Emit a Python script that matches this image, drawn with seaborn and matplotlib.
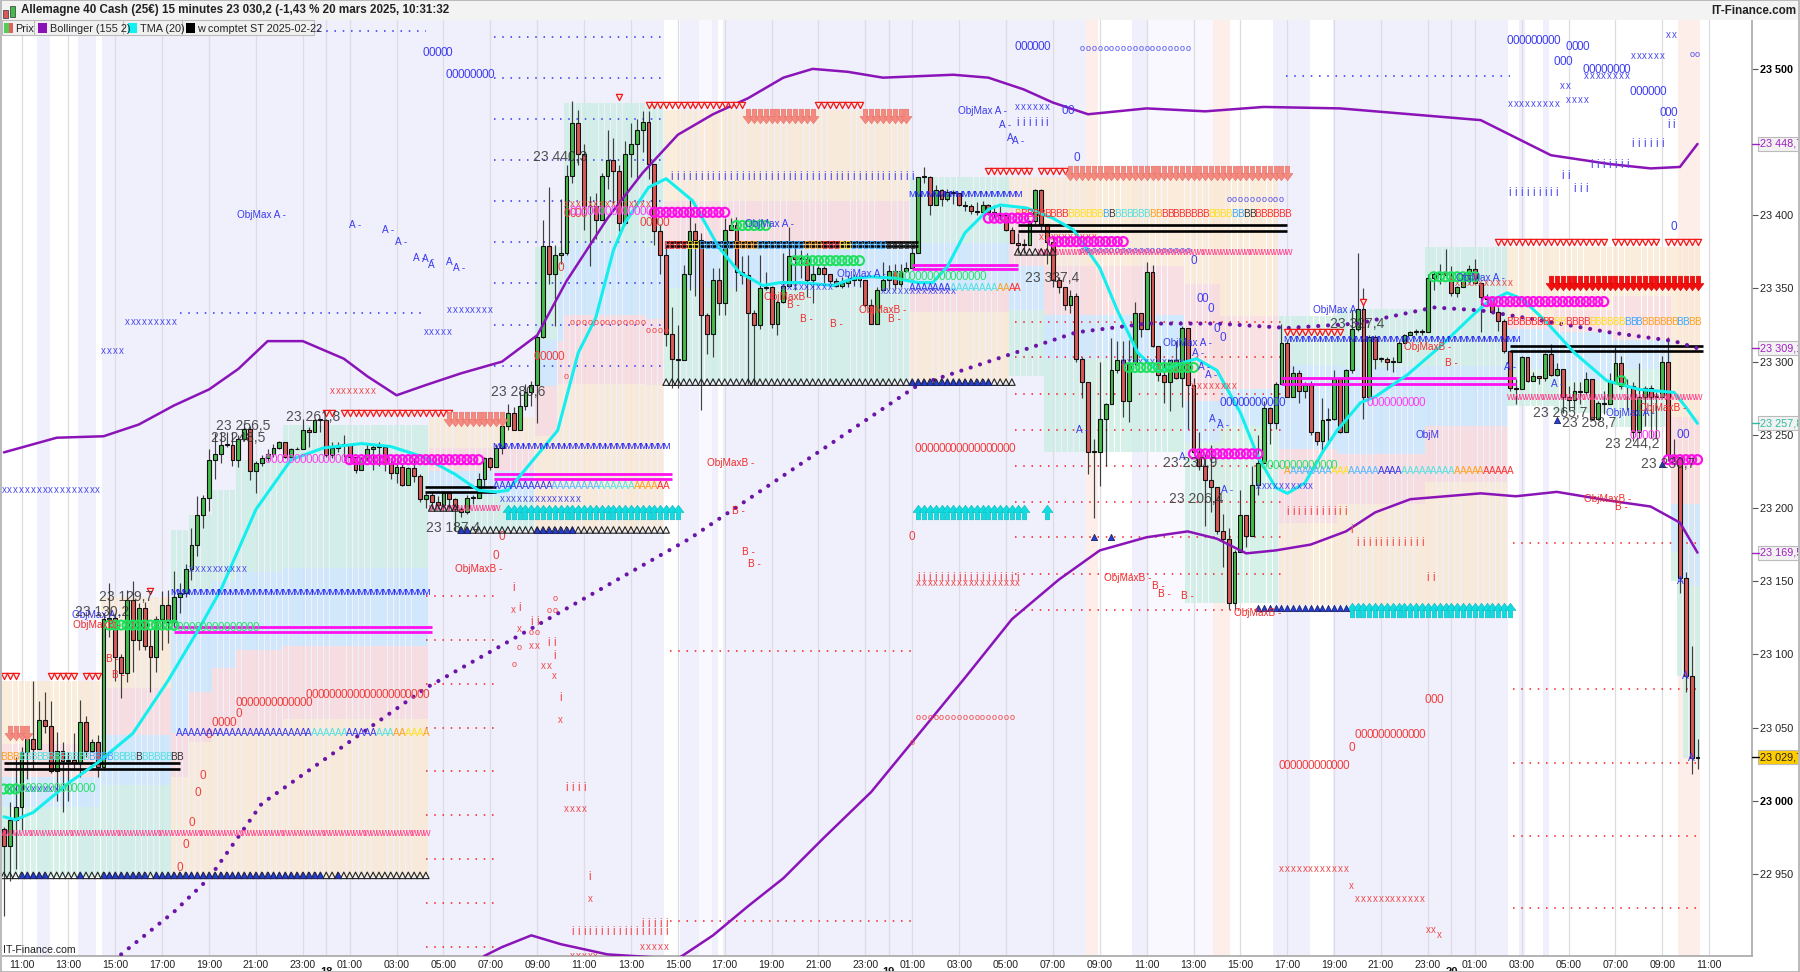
import numpy as np
import pandas as pd
import matplotlib
matplotlib.use("Agg")
import matplotlib.pyplot as plt
from matplotlib.patches import Rectangle
from matplotlib.path import Path
from matplotlib.transforms import blended_transform_factory
import seaborn as sns

# ------------------------------ DATA ------------------------------
first_bar = -3
first_open = 22981
closes = [
22969,22987,22996,23033,23042,23035,23055,23051,23020,23034,23027,23028,23026,23054,23034,23040,23023,23124,23125,23098,23087,23137,23110,23132,23106,23098,23124,23134,23122,23139,23142,23158,
23175,23195,23207,23233,23237,23243,23243,23233,23247,23254,
23225,23231,23234,23237,23241,23245,23235,23240,23240,23253,
23252,23260,23260,23236,23241,23243,23244,23235,23226,23234,
23240,23242,23242,23231,23224,23228,23216,23227,23222,23206,
23209,23204,23202,23210,23206,23199,23197,23207,23207,23220,
23234,23228,23241,23256,23265,
23253,23270,23279,23284,23317,23379,23360,23373,23374,23427,
23463,23442,23406,23406,23397,23427,23438,23430,23395,23442,
23449,23458,23464,23435,23389,23373,23319,23302,23301,23360,
23389,23383,23332,23319,23356,23340,23390,23393,23361,23359,
23333,23325,23350,23351,23326,23341,23352,23372,23370,23370,
23356,23360,23364,23360,23355,23352,23354,23356,23357,23356,
23339,23326,23349,23356,23362,23353,23362,23364,23374,23426,
23426,23407,23417,23411,23416,23415,23407,23406,23403,23402,
23407,23402,23401,23400,23390,23381,23380,23380,23396,23417,
23394,23382,23356,23351,23339,23345,23302,23286,
23238,23238,23261,23271,23294,23301,23273,23299,23333,23322,
23361,23311,23291,23286,23301,23289,23323,23284,23238,23229,
23219,23214,23184,23179,23135,23170,23195,23181,23216,23231,
23268,23258,23285,23313,23276,23292,23280,23284,23252,23246,
23260,23261,23288,23252,23294,23322,
23336,23276,23317,23302,23302,23300,23300,23313,23318,23320,
23320,23320,23357,23360,23361,23359,23347,23351,23359,23363,
23354,23344,23343,23334,23328,23307,23282,23281,23303,23287,
23290,23289,23305,23291,23295,23276,23274,23280,23279,23288,
23261,23272,23271,23286,23299,23283,23283,23252,23276,23282,
23276,23276,23300,23236,23235,23152,23085,23029,23030]
highs = [
22982,22999,23030,23037,23044,23082,23068,23074,23068,23047,23040,23033,23046,23069,23058,23042,23045,23128,23149,23128,23100,23144,23150,23135,23136,23117,23126,23143,23144,23157,23149,23162,
23186,23208,23209,23240,23251,23252,23252,23252,23250,23258,
23256,23232,23236,23240,23244,23246,23245,23241,23242,23261,
23255,23261,23261,23261,23245,23245,23250,23244,23235,23235,
23244,23244,23245,23243,23234,23234,23231,23228,23234,23223,
23210,23211,23208,23211,23210,23207,23201,23209,23209,23224,
23235,23235,23244,23264,23271,
23269,23279,23285,23287,23319,23397,23419,23380,23411,23434,
23478,23472,23449,23413,23415,23429,23458,23453,23434,23451,
23463,23466,23471,23471,23435,23394,23380,23337,23325,23366,
23411,23395,23388,23333,23364,23364,23398,23398,23399,23372,
23373,23335,23373,23361,23352,23342,23374,23392,23380,23376,
23374,23367,23365,23365,23360,23357,23358,23359,23360,23359,
23355,23343,23351,23368,23366,23367,23367,23368,23378,23426,
23433,23427,23421,23418,23418,23417,23415,23410,23408,23409,
23410,23408,23407,23406,23401,23392,23388,23384,23397,23418,
23418,23394,23385,23358,23351,23349,23347,23303,
23286,23247,23300,23272,23316,23314,23314,23315,23341,23332,
23368,23366,23311,23301,23301,23314,23324,23322,23289,23252,
23237,23243,23214,23196,23186,23171,23212,23195,23229,23250,
23273,23269,23286,23326,23314,23297,23294,23286,23287,23252,
23275,23268,23294,23287,23295,23335,
23374,23350,23318,23318,23303,23303,23303,23314,23319,23321,
23322,23322,23360,23361,23367,23377,23365,23352,23360,23366,
23370,23354,23346,23344,23337,23329,23307,23288,23304,23301,
23293,23289,23306,23312,23299,23295,23283,23286,23286,23293,
23288,23273,23280,23292,23310,23304,23288,23286,23299,23283,
23284,23279,23304,23317,23247,23232,23156,23106,23042]
lows = [
22921,22945,22953,22980,23015,23021,23035,23046,23019,23000,22992,23000,23021,23016,23030,23033,23016,23021,23112,23082,23070,23081,23088,23103,23103,23074,23088,23103,23108,23119,23128,23139,
23151,23167,23186,23198,23220,23231,23242,23229,23228,23246,
23219,23210,23229,23232,23235,23240,23234,23234,23240,23240,
23242,23252,23252,23235,23234,23238,23235,23232,23224,23226,
23232,23226,23229,23225,23220,23217,23215,23216,23218,23204,
23200,23199,23199,23198,23199,23184,23194,23196,23203,23207,
23215,23226,23228,23237,23253,
23253,23253,23267,23270,23258,23316,23353,23324,23367,23373,
23422,23434,23390,23365,23384,23406,23418,23408,23389,23393,
23426,23425,23443,23425,23380,23360,23311,23282,23282,23302,
23349,23345,23267,23305,23303,23332,23332,23390,23348,23353,
23285,23284,23322,23349,23323,23318,23340,23351,23349,23357,
23344,23340,23360,23353,23352,23351,23350,23351,23352,23351,
23337,23326,23326,23349,23349,23349,23351,23361,23365,23374,
23422,23400,23407,23406,23410,23408,23406,23403,23401,23400,
23401,23400,23398,23397,23389,23381,23374,23374,23380,23394,
23390,23367,23351,23347,23335,23333,23300,23275,
23223,23193,23215,23229,23273,23292,23262,23259,23298,23317,
23322,23310,23287,23272,23266,23288,23269,23254,23237,23226,
23188,23197,23182,23160,23131,23130,23170,23173,23181,23209,
23231,23244,23254,23285,23276,23277,23272,23275,23250,23243,
23239,23244,23260,23251,23252,23292,
23321,23261,23276,23295,23300,23294,23293,23301,23314,23318,
23318,23318,23320,23349,23353,23359,23345,23344,23352,23353,
23353,23320,23338,23333,23321,23306,23280,23271,23281,23286,
23287,23285,23287,23290,23290,23265,23267,23267,23271,23278,
23260,23260,23264,23271,23285,23281,23267,23246,23248,23256,
23248,23248,23276,23232,23232,23142,23074,23018,23022]

upper_bars = [-3,6,14,20,26,32,37,42,48,55,59,64,69,75,82,88,93,100,106,112,118,124,130,135,141,147,153,159,165,171,176,182,192,202,212,225,237,249,255,261,271,278,283,286]
upper_vals = [23238,23248,23249,23257,23270,23281,23295,23314,23314,23302,23290,23277,23284,23292,23300,23318,23355,23398,23429,23455,23469,23480,23494,23500,23498,23494,23495,23496,23494,23486,23477,23469,23473,23471,23474,23473,23469,23465,23453,23441,23435,23432,23433,23448.7]
lower_bars = [76,79,82,87,92,100,112,118,124,130,137,145,153,161,169,177,184,192,199,204,209,214,220,226,231,237,249,255,262,271,278,283,286]
lower_vals = [22880,22894,22900,22908,22902,22895,22892,22908,22928,22947,22975,23006,23045,23084,23124,23151,23171,23180,23184,23179,23169,23171,23175,23184,23197,23206,23210,23208,23211,23205,23201,23190,23169.5]
mid_bars = [17,26,32,41,69,81,114,153,180,192,204,216,228,241,249,261,271,282,286]
mid_vals = [22895,22924,22947,22998,23077,23104,23179,23284,23320,23326,23326,23323,23326,23337,23335,23327,23320,23314,23309.1]
tma_bars = [-3,-1,2,8,13,19,25,30.5,34,40,46,51.5,58,63,68.5,74,78,81,83,91.5,95,98,101,103,107,110,114.5,119,122.5,126.5,129.5,133,138.5,142,145,149,153,155.5,158,161,165,167,171.5,176,179.5,184,187,190.5,194,198,200.5,204,208,211,214,216,219,222,224.5,228.5,231,236.5,242,248,250,253.5,256,260,265,270.5,276,282,284,286]
tma_vals = [22989,22987,22992,23012,23026,23046,23082,23119,23144,23199,23233,23241,23244,23242,23235,23223,23212,23211,23212,23253,23306,23330,23376,23395,23419,23425,23410,23378,23361,23352,23354,23354,23352,23357,23358,23357,23354,23354,23365,23388,23404,23407,23405,23398,23390,23364,23335,23306,23293,23299,23302,23294,23265,23235,23214,23210,23217,23238,23253,23272,23276,23291,23310,23333,23340,23347,23343,23328,23306,23287,23281,23279,23269,23257.8]

lavender_spans = [(2.6,4.9),(9.6,12.7),(13.7,109.6),(112.4,115.6),(117.8,118.9),(119.7,181.6),(189.5,192),(213.6,219.9),(223.8,253.7),(255.5,256.6),(259.6,260.7)]
pale_spans = [(115.6,117.8),(192,203.3)]
rose_spans = [(181.6,183.7),(203.3,206.2),(282.7,286.4)]

warm_blocks = [(-3,14,23082,23039,23016,22996,22948),(14,26,23139,23077,23045,23011,22948),
 (70,74,23262,23241,23225,23208,23198),(74,88,23262,23241,23225,23208,23184),
 (110,152,23472,23410,23382,23350,23286),(169,175,23426,23405,23365,23335,23290),
 (175,199,23426,23365,23332,23302,23238),(199,205,23426,23353,23273,23245,23135),
 (205,215,23426,23331,23281,23256,23135),(254,262,23378,23329,23322,23295,23270),
 (262,272,23378,23335,23320,23287,23265),(272,282,23378,23345,23315,23295,23255),
 (282,283,23378,23262,23203,23170,23150),(283,284,23378,23262,23203,23170,23085),(284,287,23378,23262,23203,23147,23029)]
cool_blocks = [(26,29,23185,23144,23046,23016,22948),(29,33,23195,23144,23074,23040,22948),
 (33,37,23212,23150,23091,23045,22948),(37,45,23233,23156,23103,23048,22948),(45,70,23257,23159,23106,23056,22948),
 (88,92,23378,23315,23283,23249,23184),(92,93,23378,23356,23314,23285,23184),(93,107,23477,23381,23332,23285,23184),
 (107,110,23477,23378,23329,23284,23184),(152,169,23426,23381,23349,23334,23286),
 (215,225,23331,23298,23240,23190,23134),(225,240,23336,23296,23237,23203,23134),(240,254,23378,23297,23256,23218,23134)]

blue_dotted = [(50.6,69,23526),(27,69,23333)] + [(80.6,110,p) for p in (23522,23494,23466,23438,23410,23382,23354,23325,23297)] + [(215.7,254,23495)]
red_dotted = [(69,80.6,p) for p in (23140,23110,23080,23050,23020,22990,22960,22930,22900)] + \
 [(110.7,152,23102),(110.7,152,22918)] + \
 [(169.5,215,p) for p in (23327,23303,23278,23253,23229,23204,23180,23155,23130)] + \
 [(254.5,286,p) for p in (23176,23076,23026,22976,22927)]
black_levels = [(-3,27,23026),(-3,27,23022),(68.8,81,23214),(68.8,81,23211),(110,153,23382),(110,153,23379),(170,216,23393),(170,216,23389),(254,287,23311),(254,287,23307)]
magenta_levels = [(26,70,23118.7),(26,70,23115),(80.6,111,23223),(80.6,111,23220),(152,170,23366),(152,170,23363),(215,255,23289),(215,255,23285)]

tri_red = [(-3,-1,23085),(5,9,23085),(11,13,23085),(52,53,23265),(55,73,23265),(22,22,23143),(107,123,23475),(136,143,23475),(102,102,23481),(165,172,23430),(174,178,23430),(252,270,23382),(272,279,23382),(281,286,23382),(216,225,23320),(229,229,23341)]
arrow_pink = [(-2,1,23046),(73,82,23261),(124,135,23468),(144,151,23468),(179,216,23429)]
arrow_red = [(261,286,23354)]
arrow_cyan = [(83,112,23197),(153,171,23197),(175,175,23197),(227,254,23130)]
tri_black = [(-3,69,22949),(70,74,23200),(75,110,23185),(110,169,23286),(170,176,23375)]
tri_blue = [(0,4,22949),(10,10,22949),(14,21,22949),(23,51,22949),(54,54,22949),(75,76,23185),(88,94,23185),(152,165,23286),(211,226,23132),(183,183,23180),(186,186,23180),(262,262,23260),(280,280,23230)]
zigzag_pink = [(-3,69,22978),(70,81,23200),(174,216,23375),(254,286,23276)]
m_blue = [(26,69,23142),(81,110,23242),(152,170,23414),(216,255,23315)]
a_rows = [(27,69,23046),(81,110,23215),(152,170,23350),(216,254,23225)]
a_runs = [[("#3a3ae8",23),("#55e0e0",6),("#3a3ae8",5),("#55e0e0",3),("#ffa020",2),("#ffe020",3),("#ffa020",3),("#ff3030",2)],
          [("#3a3ae8",10),("#55b8ff",8),("#55e0e0",6),("#ffa020",4),("#ff3030",3)],
          [("#3a3ae8",7),("#55e0e0",8),("#ffa020",2),("#ff3030",2)],
          [("#ffa020",1),("#55b8ff",7),("#ffe020",3),("#55b8ff",5),("#3a3ae8",4),("#55e0e0",9),("#ffa020",5),("#ff3030",5)]]
b_rows = [(-3,27,23030),(110,152,23379),(170,216,23401),(254,286,23327)]
b_runs = [[("#ffa020",3),("#55e0e0",12),("#3aa8ff",4),("#55e0e0",4),("#333333",1),("#55e0e0",5),("#333333",2)],
          [("#ff3030",4),("#ffe020",2),("#3aa8ff",6),("#ffa020",4),("#3aa8ff",8),("#ffa020",3),("#ff3030",3),("#ffe020",2),("#3aa8ff",6),("#333333",2)],
          [("#ffa020",1),("#ff3030",8),("#ffe020",6),("#3aa8ff",1),("#333333",1),("#55e0e0",6),("#ffa020",2),("#ff3030",8),("#ffe020",4),("#3aa8ff",2),("#333333",2),("#ff3030",6)],
          [("#ff3030",8),("#ffe020",2),("#ff3030",4),("#ffe020",6),("#3aa8ff",3),("#ffa020",6),("#3aa8ff",2),("#ffa020",2),("#ff3030",6)]]
x_blue = [(-3,13,23212),(14,17,23307),(18,26,23327),(69,73,23320),(73,80,23335),(29,38,23158),(-2,6,23008),(82,95,23206),(130,138,23351),(147,159,23348),(211,220,23215),(188,198,23300),(254,262,23476),(275,280,23509),(281,282,23523),(263,264,23488),(264,267,23479),(267,274,23495),(170,175,23474)]
i_blue = [(111,152,23426),(170,175,23463),(254,262,23415),(263,264,23427),(265,267,23418),(268,274,23434),(275,280,23449),(281,282,23462)]
zero_blue = [(69,73,23511),(73,80,23496),(254,262,23519),(262,264,23505),(264,267,23515),(267,274,23499),(275,280,23484),(280,282,23470),(282,282,23392),(170,175,23515),(178,179,23471),(180,180,23439),(200,200,23369),(201,202,23343),(203,203,23336),(204,204,23322),(205,205,23316),(205,215,23272),(283,284,23250)]
oh_blue = [(181,199,23514),(206,215,23411),(285,286,23510),(181,199,23376)]
zero_red = [(37,49,23067),(49,69,23072),(37,37,23059),(33,36,23053),(32,32,23045),(31,31,23017),(30,30,23005),(29,29,22985),(28,28,22970),(27,27,22954),(82,82,23180),(81,81,23167),(88,92,23303),(92,92,23364),(93,96,23401),(106,110,23395),(153,169,23240),(152,152,23180),(215,226,23024),(227,227,23036),(228,239,23045),(240,242,23069)]
oh_red = [(84,84,23093),(85,85,23105),(87,88,23115),(90,91,23130),(91,91,23138),(94,106,23327),(107,110,23321),(93,93,23290),(153,169,23057),(152,152,23040)]
x_red = [(84,84,23130),(85,85,23117),(87,88,23106),(89,90,23092),(91,91,23085),(92,92,23055),(93,96,22994),(97,97,22933),(94,98,22894),(106,110,22900),(153,170,23149),(215,226,22953),(227,227,22942),(228,239,22933),(240,241,22912),(242,242,22908),(200,207,23283),(53,60,23280),(93,107,23408),(174,183,23385),(245,254,23354)]
i_red = [(84,84,23145),(85,85,23132),(87,88,23122),(90,91,23108),(91,91,23099),(92,92,23070),(93,96,23009),(97,97,22948),(94,110,22910),(106,110,22916),(153,170,23152),(216,226,23197),(228,239,23176),(240,241,23152),(227,227,23185)]
ring_green = [(-3,-1,23008),(15,26,23120),(122,127,23393),(132,143,23369),(189,200,23296),(241,248,23358),(273,273,23287)]
zero_green = [(-1,12,23008),(26,40,23118),(149,164,23358),(212,224,23229)]
ring_magenta = [(56,78,23233),(108,120,23402),(165,172,23398),(176,188,23382),(200,211,23237),(250,270,23341),(281,286,23233)]
zero_magenta = [(42,56,23233),(94,107,23402),(230,239,23272),(275,279,23249)]

note_blue = [(41,23400,"ObjMax A -"),(57,23393,"A -"),(62.5,23390,"A -"),(64.7,23382,"A -"),(67.8,23371,"A -"),(69.4,23370,"A -"),(70,23366,"A"),(73,23368,"A"),(74.7,23364,"A -"),
 (12.8,23127,"ObjMax A -"),(127.7,23394,"ObjMax A -"),(143.4,23360,"ObjMax A -"),(164,23471,"ObjMax A -"),(167.8,23462,"A -"),(168.7,23453,"A"),(170,23451,"A -"),
 (199,23313,"ObjMax A -"),(200.8,23306,"A -"),(201.8,23296,"A -"),(203,23291,"A -"),(203.7,23261,"A -"),(205,23257,"A -"),(224.5,23335,"ObjMax A -"),
 (198,23235,"A"),(205.7,23212,"A -"),(181,23253,"A -"),(249,23357,"ObjMax A -"),(274.5,23265,"ObjMax A -"),(283,23150,"A"),(284,23085,"A"),(285,23029,"A"),(254,23296,"A -"),(262,23285,"A -"),(240,23250,"ObjM")]
note_red = [(12.9,23120,"ObjMaxB -"),(15.6,23097,"B -"),(16.6,23086,"B -"),(78,23158,"ObjMaxB -"),(121,23231,"ObjMaxB -"),(122.3,23198,"B -"),(124,23170,"B -"),(125,23162,"B -"),
 (130.8,23344,"ObjMaxB -"),(131.7,23339,"B -"),(134,23329,"B -"),(139,23326,"B -"),(147,23335,"ObjMaxB -"),(149,23329,"B -"),
 (188.8,23152,"ObjMaxB -"),(194,23147,"B -"),(195,23141,"B -"),(199,23140,"B -"),(211,23128,"ObjMaxB -"),(240,23310,"ObjMaxB -"),(244,23299,"B -"),(280,23268,"ObjMaxB -"),(270.7,23206,"ObjMaxB -"),(273,23201,"B -")]
price_notes = [(17.8,23139,"23 129,7"),(13.7,23129,"23 130,2"),(37.8,23256,"23 256,5"),(36.9,23248,"23 248,5"),(49.7,23262,"23 261,8"),(73.6,23186,"23 187,4"),(84.7,23279,"23 280,6"),(91.9,23440,"23 440,3"),(175.8,23357,"23 337,4"),(199.5,23231,"23 230,9"),(200.5,23206,"23 206,4"),(228,23326,"23 327,4"),(262.5,23265,"23 265,7"),(267.5,23258,"23 258,7"),(274.8,23244,"23 244,2"),(281,23230,"23 230,7")]

y_ticks = [23500,23400,23350,23300,23250,23200,23150,23100,23050,23000,22950]
y_labels = ["23 500","23 400","23 350","23 300","23 250","23 200","23 150","23 100","23 050","23 000","22 950"]
last_boxes = [(23448.7,"23 448,7","#a020c0","#f2f2f2"),(23309.1,"23 309,1","#a020c0","#f2f2f2"),(23257.8,"23 257,8","#30b8a0","#f2f2f2"),(23169.5,"23 169,5","#a020c0","#f2f2f2"),(23029.7,"23 029,7","#222222","#ffcc00")]
stamps = pd.date_range("2025-03-17 11:00", "2025-03-20 11:00", freq="2h")
hour_labels = [s.strftime("%H:%M") for s in stamps]
day_labels = ["18","19","20"]
day_bars = [52,148,244]
title_text = "Allemagne 40 Cash (25€) 15 minutes 23 030,2 (-1,43 % 20 mars 2025, 10:31:32"
legend_names = ["Prix","Bollinger (155 2)","TMA (20)","w comptet ST 2025-02-22"]

# ------------------------------ STYLE / AXES ------------------------------
sns.set_theme(style="white")
plt.rcParams["font.family"] = ["Liberation Sans", "DejaVu Sans"]
W, H = 1800, 972
fig = plt.figure(figsize=(W/100, H/100), dpi=100, facecolor="white")
AX_L, AX_R, AX_T, AX_B = 2, 1752, 20, 956
ax = fig.add_axes([AX_L/W, 1-AX_B/H, (AX_R-AX_L)/W, (AX_B-AX_T)/H])
ax.set_xlim(-3.33, 295.3)
ax.set_ylim(22893.9, 23533.4)
ax.set_facecolor("white")

# background spans
for a, b in lavender_spans:
    ax.axvspan(a, b, color="#f0effc", lw=0, zorder=0)
for a, b in pale_spans:
    ax.axvspan(a, b, color="#f8f8fe", lw=0, zorder=0)
for a, b in rose_spans:
    ax.axvspan(a, b, color="#fdeeea", lw=0, zorder=0)

# vertical grid and x ticks
tick_bars = np.arange(len(hour_labels)) * 8
for b in tick_bars:
    ax.axvline(b, color="#dcdce4", lw=0.9, zorder=0.5)
ax.set_xticks(tick_bars)
ax.set_xticklabels(hour_labels, fontsize=7.6, color="#222222")
ax.tick_params(axis="x", length=0, pad=3)
for b, d in zip(day_bars, day_labels):
    ax.text(b, -0.012, d, transform=blended_transform_factory(ax.transData, ax.transAxes), ha="center", va="top", fontsize=8, fontweight="bold", color="#111111")
    ax.axvline(b, color="#dcdce4", lw=0.9, zorder=0.5)

# stacked per-bar colour blocks
C_ORANGE, C_PINK, C_BLUE, C_TEAL = "#fbe9d3", "#f8dadd", "#c9e6fc", "#cdeee4"
def block(i0, i1, levels, colours):
    bars = np.arange(i0, i1)
    for k, col in enumerate(colours):
        ax.bar(bars, levels[k]-levels[k+1], bottom=levels[k+1], width=0.88, color=col, alpha=0.82, lw=0, zorder=1)
for row in warm_blocks:
    block(row[0], row[1], row[2:], [C_ORANGE, C_PINK, C_BLUE, C_TEAL])
for row in cool_blocks:
    block(row[0], row[1], row[2:], [C_TEAL, C_BLUE, C_PINK, C_ORANGE])

# dotted levels
for a, b, p in blue_dotted:
    ax.hlines(p, a, b, color="#3333ee", lw=1.1, linestyles=(0, (1, 4.4)), zorder=1.5)
for a, b, p in red_dotted:
    ax.hlines(p, a, b, color="#ee2222", lw=1.1, linestyles=(0, (1, 4.4)), zorder=1.5)

# candles
bars = np.arange(first_bar, first_bar + len(closes))
assert len(closes) == len(highs) == len(lows), (len(closes), len(highs), len(lows))
df = pd.DataFrame({"bar": bars, "close": closes, "high": highs, "low": lows})
df["open"] = [first_open] + closes[:-1]
df["top"] = df[["open", "close"]].max(axis=1)
df["bot"] = df[["open", "close"]].min(axis=1)
ax.vlines(df["bar"], np.minimum(df["low"], df["bot"]), np.maximum(df["high"], df["top"]), color="#222222", lw=0.85, alpha=0.85, zorder=3)
ups = df[df["close"] >= df["open"]]
dns = df[df["close"] < df["open"]]
ax.bar(ups["bar"], (ups["top"]-ups["bot"]).clip(lower=0.6), bottom=ups["bot"], width=0.66, color="#44bb4c", edgecolor="#111111", lw=0.8, zorder=3.2)
ax.bar(dns["bar"], (dns["top"]-dns["bot"]).clip(lower=0.6), bottom=dns["bot"], width=0.66, color="#d85a56", edgecolor="#111111", lw=0.8, zorder=3.2)

# black and magenta level pairs
for a, b, p in black_levels:
    ax.hlines(p, a, b, color="black", lw=1.9, zorder=4)
for a, b, p in magenta_levels:
    ax.hlines(p, a, b, color="#ff10ee", lw=2.0, zorder=4)

# indicator lines
def line(xs, ys, color, lw, **kw):
    sns.lineplot(x=xs, y=ys, ax=ax, color=color, lw=lw, estimator=None, sort=False, legend=False, zorder=5, **kw)
line(upper_bars, upper_vals, "#8a14b8", 1.8)
line(lower_bars, lower_vals, "#8a14b8", 1.8)
line(tma_bars, tma_vals, "#14eeee", 2.2)
mid_line = ax.plot(mid_bars, mid_vals, color="#6a14a8", lw=3.0, linestyle=(0, (0.01, 2.35)), dash_capstyle="round", zorder=5)

# letter rows
def rows(ch, spec, color, size, weight="normal", z=6):
    for a, b, p in spec:
        for k in np.arange(a, b+1):
            ax.text(k, p, ch, color=color, fontsize=size, fontweight=weight, ha="center", va="center", zorder=z, clip_on=True)

def run_rows(ch, spec, runs, size):
    for (a, b, p), run in zip(spec, runs):
        colours = [c for c, n in run for _ in range(n)]
        for j, k in enumerate(np.arange(a, b+1)):
            ax.text(k, p, ch, color=colours[min(j, len(colours)-1)], fontsize=size, ha="center", va="center", zorder=6, clip_on=True)

rows("x", x_blue, "#4a4af0", 7)
rows("x", x_red, "#f04a4a", 7)
rows("i", i_blue, "#4a4af0", 8.5)
rows("i", i_red, "#f04a4a", 8.5)
rows("0", zero_blue, "#4040f0", 8.5)
rows("o", oh_blue, "#4a4af0", 6.5)
rows("0", zero_red, "#f04040", 8.5)
rows("o", oh_red, "#f04040", 6.5)
rows("0", zero_green, "#30e070", 8.5)
rows("0", zero_magenta, "#ff40f0", 8.5)
rows("M", m_blue, "#2020f0", 6.6)
rows("w", zigzag_pink, "#ff3c8c", 7.5)
run_rows("A", a_rows, a_runs, 7.2)
run_rows("B", b_rows, b_runs, 7.2)

def scatter_rows(spec, **kw):
    xs, ys = [], []
    for a, b, p in spec:
        for k in np.arange(a, b+1):
            xs.append(k); ys.append(p)
    ax.scatter(xs, ys, **kw)

scatter_rows(tri_black, marker="^", s=22, facecolor="none", edgecolor="#222222", lw=0.8, zorder=6)
scatter_rows(tri_blue, marker="^", s=20, facecolor="#2040d8", edgecolor="#222266", lw=0.6, zorder=6.1)
scatter_rows(tri_red, marker="v", s=20, facecolor="#ffe4e4", edgecolor="#f01818", lw=0.9, zorder=6)
arrow_down = Path([(-.3,1),(.3,1),(.3,0),(.75,0),(0,-1),(-.75,0),(-.3,0),(-.3,1)], closed=True)
arrow_up = Path([(-.3,-1),(.3,-1),(.3,0),(.75,0),(0,1),(-.75,0),(-.3,0),(-.3,-1)], closed=True)
scatter_rows(arrow_pink, marker=arrow_down, s=110, facecolor="#f28a80", edgecolor="#e87068", lw=0.4, zorder=6)
scatter_rows(arrow_red, marker=arrow_down, s=110, facecolor="#f01010", edgecolor="#e00000", lw=0.4, zorder=6)
scatter_rows(arrow_cyan, marker=arrow_up, s=110, facecolor="#10dce0", edgecolor="#10b8c0", lw=0.4, zorder=6)
scatter_rows(ring_green, marker="o", s=42, facecolor="none", edgecolor="#20e060", lw=1.5, zorder=6.2)
scatter_rows(ring_magenta, marker="o", s=42, facecolor="none", edgecolor="#ff10e8", lw=1.6, zorder=6.2)

# notes
for b, p, t in note_blue:
    ax.text(b, p, t, color="#3a3af0", fontsize=7.2, ha="center", va="center", zorder=7, clip_on=True)
for b, p, t in note_red:
    ax.text(b, p, t, color="#f02a2a", fontsize=7.2, ha="center", va="center", zorder=7, clip_on=True)
for b, p, t in price_notes:
    ax.text(b, p, t, color="#333333", fontsize=10, alpha=0.85, ha="center", va="center", zorder=7, clip_on=True)

# right axis
ax.yaxis.tick_right()
ax.set_yticks(y_ticks)
ax.set_yticklabels(y_labels, fontsize=7.8, color="#222222")
ax.tick_params(axis="y", length=4, width=0.8, pad=2, color="#555555")
for lab, val in zip(ax.get_yticklabels(), y_ticks):
    if val in (23500, 23000):
        lab.set_fontweight("bold")
        lab.set_color("black")
trans = blended_transform_factory(ax.transAxes, ax.transData)
for p, t, col, bg in last_boxes:
    ax.text(1.0045, p, t, transform=trans, color=col, fontsize=7.8, va="center", ha="left", clip_on=False, zorder=8,
            bbox=dict(boxstyle="square,pad=0.18", facecolor=bg, edgecolor="#bbbbbb", lw=0.8))
    ax.plot([1.0, 1.004], [p, p], transform=trans, color=col if bg != "#ffcc00" else "black", lw=1, clip_on=False, zorder=8)
for side in ("top", "left"):
    ax.spines[side].set_visible(False)
ax.spines["right"].set_color("#aaaaaa")
ax.spines["bottom"].set_color("#aaaaaa")
ax.set_xlabel(""); ax.set_ylabel("")

# header, legend, borders (figure furniture)
def R(x, y, w, h, **kw):
    fig.add_artist(Rectangle((x/W, 1-(y+h)/H), w/W, h/H, transform=fig.transFigure, **kw))
R(0, 0, W, 20, facecolor="#f3f3f3", edgecolor="none", zorder=9)
R(0, 19.5, W, 0.8, facecolor="#bbbbbb", edgecolor="none", zorder=9)
R(0, 0, W, 0.8, facecolor="#bbbbbb", edgecolor="none", zorder=9)
R(0, 0, 1.5, H, facecolor="#bbbbbb", edgecolor="none", zorder=9)
R(W-2, 0, 2, H, facecolor="#bbbbbb", edgecolor="none", zorder=9)
R(0, H-1.5, W, 1.5, facecolor="#bbbbbb", edgecolor="none", zorder=9)
R(3, 10, 5, 8, facecolor="#d85a56", edgecolor="#333333", lw=0.5, zorder=10)
R(10, 6, 5, 11, facecolor="#44bb4c", edgecolor="#333333", lw=0.5, zorder=10)
fig.text(21/W, 1-10/H, title_text, fontsize=8.4, fontweight="bold", color="#222222", va="center", ha="left", zorder=10)
fig.text(1796/W, 1-10.5/H, "IT-Finance.com", fontsize=8.4, fontweight="bold", color="#222222", va="center", ha="right", zorder=10)
fig.text(3/W, 1-950/H, "IT-Finance.com", fontsize=7.6, color="#222222", va="center", ha="left", zorder=10)
R(2, 20.5, 312, 15, facecolor="#f0f0f0", edgecolor="#bbbbbb", lw=0.8, zorder=9)
leg_x = [4, 38, 128, 186]
leg_sep = [34, 123, 182]
leg_col = [None, "#8a10b8", "#10f0f0", "#000000"]
for sx in leg_sep:
    R(sx, 20.5, 0.8, 15, facecolor="#bbbbbb", edgecolor="none", zorder=10)
for lx, name, col in zip(leg_x, legend_names, leg_col):
    if col is None:
        R(lx, 23, 4.5, 10, facecolor="#55cc55", edgecolor="none", zorder=10)
        R(lx+4.5, 23, 4.5, 10, facecolor="#e06060", edgecolor="none", zorder=10)
    else:
        R(lx, 23, 9, 10, facecolor=col, edgecolor="none", zorder=10)
    fig.text((lx+11.5)/W, 1-28.5/H, name, fontsize=7.8, color="#222222", va="center", ha="left", zorder=10)

fig.savefig("out.png", dpi=100)
